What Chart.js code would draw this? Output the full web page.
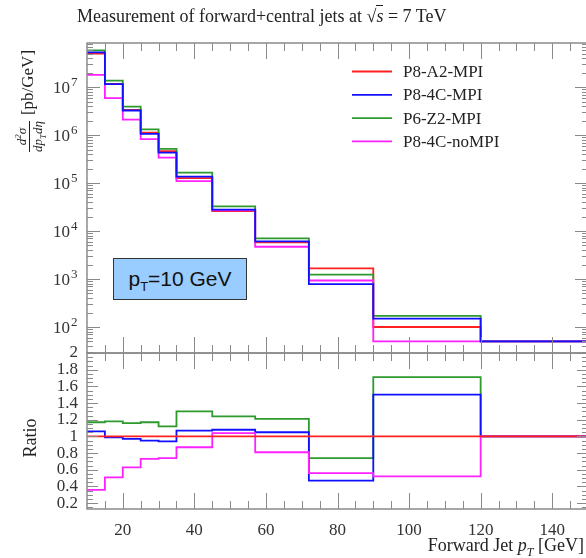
<!DOCTYPE html>
<html>
<head>
<meta charset="utf-8">
<script src="https://cdn.jsdelivr.net/npm/chart.js@4"></script>
<style>
    html, body { margin: 0; padding: 0; background: #fff; overflow: hidden; }
    #wrap { position: relative; width: 586px; height: 558px; overflow: hidden; }
    canvas { position: absolute; left: 0; top: 0; }
    .serif { font-family: "Liberation Serif", "DejaVu Serif", serif; color: #222; position: absolute; white-space: nowrap; }
    #title { left: 77px; top: 6px; font-size: 18px; }
    #title .ov { border-top: 1px solid #222; }
    #ylab { left: -42px; top: 87px; width: 140px; height: 28px; line-height: 28px; font-size: 17px; text-align: center; transform: rotate(-90deg); }
    .frac { display: inline-block; vertical-align: middle; font-size: 13px; line-height: 13px; text-align: center; font-style: italic; margin-right: 6px; }
    .frac .num { display: block; border-bottom: 1px solid #222; padding: 0 1px 1px; }
    .frac .den { display: block; padding-top: 1px; }
    .frac sup, .frac sub { font-size: 9px; line-height: 0; }
    #rlab { left: 0px; top: 425px; width: 60px; height: 26px; line-height: 26px; font-size: 18px; text-align: center; transform: rotate(-90deg); }
    #xlab { right: 2px; top: 535px; font-size: 18px; }
    #xlab sub { font-size: 12px; }
    #ptbox { position: absolute; left: 113px; top: 258px; width: 132px; height: 40px; background: #99ccff; border: 1px solid #333;
             font-family: "Liberation Sans", Arial, sans-serif; font-size: 21px; line-height: 40px; text-align: center; color: #111; }
    #ptbox sub { font-size: 13px; }
</style>
</head>
<body>
<div id="wrap">
    <canvas id="top" width="600" height="558"></canvas>
    <canvas id="ratio" width="600" height="558"></canvas>
    <div id="title" class="serif">Measurement of forward+central jets at &radic;<span class="ov"><i>s</i></span> = 7 TeV</div>
    <div id="ylab" class="serif"><span class="frac"><span class="num">d<sup>2</sup>&sigma;</span><span class="den">dp<sub>T</sub>d&eta;</span></span>[pb/GeV]</div>
    <div id="rlab" class="serif">Ratio</div>
    <div id="xlab" class="serif">Forward Jet <i>p</i><sub><i>T</i></sub> [GeV]</div>
    <div id="ptbox">p<sub>T</sub>=10 GeV</div>
</div>
<script>
// bin edges in GeV
const binEdges = [10, 15, 20, 25, 30, 35, 45, 57, 72, 90, 120, 150];

const seriesNames = ['P8-A2-MPI', 'P8-4C-MPI', 'P6-Z2-MPI', 'P8-4C-noMPI'];
const seriesColors = ['#ff2020', '#1010ff', '#2e9a2e', '#ff20ff'];

// d2sigma/dpT deta [pb/GeV]
const xsecA2 = [5.0e7, 1.16e7, 3.35e6, 1.12e6, 4.6e5, 1.27e5, 2.6e4, 5.8e3, 1.66e3, 1.0e2, 50];
const xsec4C = [5.3e7, 1.15e7, 3.25e6, 1.06e6, 4.3e5, 1.36e5, 2.8e4, 6.1e3, 7.8e2, 1.5e2, 50];
const xsecZ2 = [5.8e7, 1.37e7, 3.9e6, 1.31e6, 5.15e5, 1.65e5, 3.25e4, 7.0e3, 1.23e3, 1.7e2, 50];
const xsecNoMPI = [1.8e7, 5.9e6, 2.1e6, 8.2e5, 3.4e5, 1.1e5, 2.7e4, 4.7e3, 9.3e2, 50, 50];

// ratio to P8-A2-MPI
const ratioA2 = [1, 1, 1, 1, 1, 1, 1, 1, 1, 1, 1];
const ratio4C = [1.06, 0.99, 0.97, 0.95, 0.94, 1.07, 1.08, 1.05, 0.47, 1.50, 1.0];
const ratioZ2 = [1.17, 1.18, 1.16, 1.17, 1.12, 1.30, 1.24, 1.21, 0.74, 1.71, 1.0];
const ratioNoMPI = [0.36, 0.51, 0.63, 0.73, 0.74, 0.87, 1.04, 0.81, 0.56, 0.52, 1.0];

// tick labels
const xTickValues = [20, 40, 60, 80, 100, 120, 140];
const decadeExponents = [2, 3, 4, 5, 6, 7];
const ratioTickValues = [0.2, 0.4, 0.6, 0.8, 1, 1.2, 1.4, 1.6, 1.8, 2];

// layout
const W = 600, H = 558;
const plotLeft = 87, plotRight = 588, topTop = 43, split = 353, ratioBottom = 509;
const xMin = 10, xMax = 150;
const serif = '"Liberation Serif", "DejaVu Serif", serif';

function histPoints(values) {
    const pts = values.map((v, i) => ({ x: binEdges[i], y: v }));
    pts.push({ x: binEdges[binEdges.length - 1], y: values[values.length - 1] });
    return pts;
}

function stepSet(label, values, color) {
    return {
        label: label,
        data: histPoints(values),
        borderColor: color,
        borderWidth: 1.8,
        stepped: 'before',
        pointRadius: 0,
        fill: false
    };
}

// frame, inward ticks and the small extras drawn on the canvas
const frameTicks = {
    id: 'frameTicks',
    afterDatasetsDraw(chart, args, opts) {
        const { ctx, chartArea: a, scales } = chart;
        const xs = scales.x, ys = scales.y;
        ctx.save();
        ctx.strokeStyle = '#8a8a8a';
        ctx.lineWidth = 1;
        ctx.beginPath();
        for (let v = xMin + 5; v < xMax; v += 5) {
            const px = Math.round(xs.getPixelForValue(v)) + 0.5;
            const len = v % 20 === 0 ? 16 : 8;
            ctx.moveTo(px, a.top); ctx.lineTo(px, a.top + len);
            ctx.moveTo(px, a.bottom); ctx.lineTo(px, a.bottom - len);
        }
        opts.yTicks.forEach(t => {
            const py = Math.round(ys.getPixelForValue(t[0])) + 0.5;
            ctx.moveTo(a.left, py); ctx.lineTo(a.left + t[1], py);
            ctx.moveTo(a.right, py); ctx.lineTo(a.right - t[1], py);
        });
        ctx.stroke();
        ctx.lineWidth = 1.5;
        ctx.strokeRect(a.left, a.top, a.right - a.left, a.bottom - a.top);

        if (opts.decades) {
            ctx.fillStyle = '#333';
            ctx.textBaseline = 'alphabetic';
            opts.decades.forEach(e => {
                const py = ys.getPixelForValue(Math.pow(10, e));
                ctx.font = '17px ' + serif;
                ctx.textAlign = 'right';
                ctx.fillText('10', 70, py + 6);
                ctx.font = '13px ' + serif;
                ctx.textAlign = 'left';
                ctx.fillText(String(e), 71, py - 1);
            });
        }
        if (opts.legend) {
            ctx.font = '17px ' + serif;
            ctx.textAlign = 'left';
            ctx.textBaseline = 'middle';
            seriesNames.forEach((name, i) => {
                const ly = 71.5 + i * 23.3;
                ctx.strokeStyle = seriesColors[i];
                ctx.lineWidth = 1.8;
                ctx.beginPath();
                ctx.moveTo(352, ly); ctx.lineTo(392, ly);
                ctx.stroke();
                ctx.fillStyle = '#222';
                ctx.fillText(name, 403, ly + 1);
            });
        }
        ctx.restore();
    }
};

// tick marks for the log panel
const logTicks = [];
for (let d = 1; d <= 7; d++) {
    for (let k = 1; k <= 9; k++) {
        const v = k * Math.pow(10, d);
        if (v >= 28.7 && v <= 8.3e7) logTicks.push([v, k === 1 ? 13 : 6]);
    }
}
const linTicks = [];
for (let i = 3; i <= 40; i++) {
    linTicks.push([i * 0.05, i % 4 === 0 ? 11 : 6]);
}

// Differential cross section, log panel
new Chart(document.getElementById('top'), {
    type: 'line',
    data: {
        datasets: [
            stepSet(seriesNames[1], xsec4C, seriesColors[1]),
            stepSet(seriesNames[3], xsecNoMPI, seriesColors[3]),
            stepSet(seriesNames[2], xsecZ2, seriesColors[2]),
            stepSet(seriesNames[0], xsecA2, seriesColors[0])
        ]
    },
    options: {
        responsive: false,
        animation: false,
        events: [],
        layout: { padding: { left: 0, right: W - plotRight, top: topTop, bottom: H - split } },
        scales: {
            x: { type: 'linear', min: xMin, max: xMax, display: false },
            y: {
                type: 'logarithmic', min: 28.7, max: 8.3e7,
                grid: { display: false }, border: { display: false },
                ticks: { display: false },
                afterFit: s => { s.width = plotLeft; }
            }
        },
        plugins: {
            legend: { display: false },
            tooltip: { enabled: false },
            frameTicks: { yTicks: logTicks, decades: decadeExponents, legend: true }
        }
    },
    plugins: [frameTicks]
});

// Ratio panel
new Chart(document.getElementById('ratio'), {
    type: 'line',
    data: {
        datasets: [
            stepSet(seriesNames[0], ratioA2, seriesColors[0]),
            stepSet(seriesNames[3], ratioNoMPI, seriesColors[3]),
            stepSet(seriesNames[1], ratio4C, seriesColors[1]),
            stepSet(seriesNames[2], ratioZ2, seriesColors[2])
        ]
    },
    options: {
        responsive: false,
        animation: false,
        events: [],
        layout: { padding: { left: 0, right: W - plotRight, top: split, bottom: 0 } },
        scales: {
            x: {
                type: 'linear', min: xMin, max: xMax,
                grid: { display: false, drawTicks: false }, border: { display: false },
                afterBuildTicks: s => { s.ticks = xTickValues.map(v => ({ value: v })); },
                afterFit: s => { s.height = H - ratioBottom; },
                ticks: { padding: 11, color: '#333', font: { family: serif, size: 17 }, maxRotation: 0, autoSkip: false }
            },
            y: {
                type: 'linear', min: 0.13, max: 2,
                grid: { display: false, drawTicks: false }, border: { display: false },
                afterBuildTicks: s => { s.ticks = ratioTickValues.map(v => ({ value: v })); },
                afterFit: s => { s.width = plotLeft; },
                ticks: {
                    padding: 9, color: '#333', font: { family: serif, size: 17 }, autoSkip: false,
                    callback: v => String(Math.round(v * 100) / 100)
                }
            }
        },
        plugins: {
            legend: { display: false },
            tooltip: { enabled: false },
            frameTicks: { yTicks: linTicks }
        }
    },
    plugins: [frameTicks]
});
</script>
</body>
</html>
